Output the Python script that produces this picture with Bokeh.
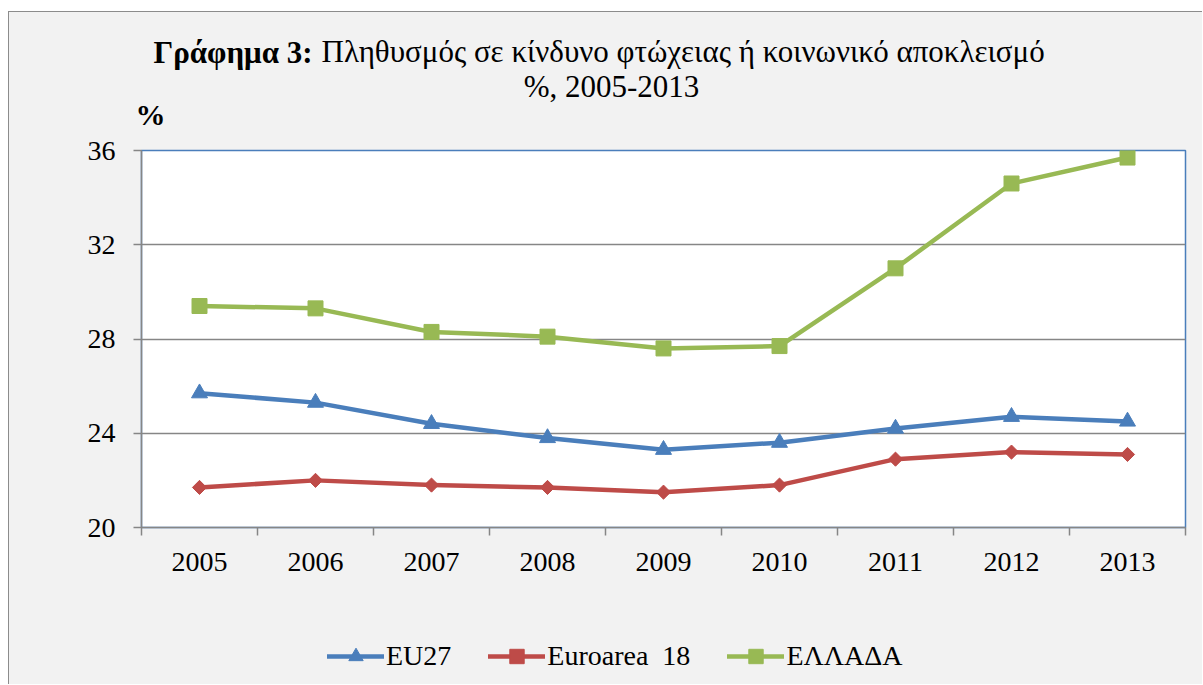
import math
from bokeh.plotting import figure
from bokeh.layouts import column
from bokeh.models import (Range1d, FactorRange, LinearAxis, CategoricalAxis, FixedTicker,
                          Label, Legend, LegendItem)
from bokeh.embed import file_html
from bokeh.resources import INLINE

years = ["2005", "2006", "2007", "2008", "2009", "2010", "2011", "2012", "2013"]
eu27 = [25.7, 25.3, 24.4, 23.8, 23.3, 23.6, 24.2, 24.7, 24.5]
euroarea18 = [21.7, 22.0, 21.8, 21.7, 21.5, 21.8, 22.9, 23.2, 23.1]
ellada = [29.4, 29.3, 28.3, 28.1, 27.6, 27.7, 31.0, 34.6, 35.7]
y_ticks = [20, 24, 28, 32, 36]
series_names = ["EU27", "Euroarea  18", "ΕΛΛΑΔΑ"]

FONT = "Liberation Serif"
BLUE = "#4A7EBB"
RED = "#BE4B48"
GREEN = "#98B954"
GRID = "#868686"
BG = "#F2F2F2"


def draw_series(fig):
    r1l = fig.line(years, eu27, line_color=BLUE, line_width=4.5, line_join="round", line_cap="round")
    r1m = fig.scatter(years, eu27, marker="triangle", size=16, fill_color=BLUE, line_color=BLUE)
    r2l = fig.line(years, euroarea18, line_color=RED, line_width=4.5, line_join="round", line_cap="round")
    r2m = fig.scatter(years, euroarea18, marker="square", angle=math.pi / 4, size=10,
                      fill_color=RED, line_color=RED)
    r3l = fig.line(years, ellada, line_color=GREEN, line_width=4.5, line_join="round", line_cap="round")
    r3m = fig.scatter(years, ellada, marker="square", size=15, fill_color=GREEN, line_color=GREEN)
    return [[r1l, r1m], [r2l, r2m], [r3l, r3m]]


# ---------------- main chart ----------------
p = figure(width=1193, height=608, x_range=FactorRange(*years), y_range=Range1d(20, 36),
           output_backend="svg", toolbar_location=None,
           x_axis_location=None, y_axis_location=None,
           min_border_left=132, min_border_right=17, min_border_top=137, min_border_bottom=93)
p.border_fill_color = BG
p.background_fill_color = "white"
p.outline_line_color = BLUE
p.outline_line_width = 1.5

yax = LinearAxis(ticker=FixedTicker(ticks=y_ticks))
yax.axis_line_color = GRID
yax.axis_line_width = 1.5
yax.major_tick_line_color = GRID
yax.major_tick_line_width = 1.5
yax.major_tick_out = 8
yax.major_tick_in = 0
yax.minor_tick_line_color = None
yax.major_label_standoff = 18
yax.major_label_text_font = FONT
yax.major_label_text_font_size = "28px"
yax.major_label_text_color = "black"
p.add_layout(yax, "left")

xticks_ax = LinearAxis(ticker=FixedTicker(ticks=list(range(len(years) + 1))))
xticks_ax.axis_line_color = GRID
xticks_ax.axis_line_width = 1.5
xticks_ax.major_tick_line_color = GRID
xticks_ax.major_tick_line_width = 1.5
xticks_ax.major_tick_out = 8
xticks_ax.major_tick_in = 0
xticks_ax.minor_tick_line_color = None
xticks_ax.major_label_text_font_size = "0px"
xticks_ax.major_label_standoff = 0
p.add_layout(xticks_ax, "below")

xlab = CategoricalAxis()
xlab.axis_line_color = None
xlab.major_tick_line_color = None
xlab.major_tick_out = 0
xlab.major_tick_in = 0
xlab.major_label_standoff = 17
xlab.major_label_text_font = FONT
xlab.major_label_text_font_size = "28px"
xlab.major_label_text_color = "black"
p.add_layout(xlab, "below")

p.xgrid.grid_line_color = None
p.ygrid.ticker = FixedTicker(ticks=y_ticks)
p.ygrid.grid_line_color = GRID
p.ygrid.grid_line_width = 1.5

draw_series(p)

H = 34  # height of each title panel
C = 11  # vertical correction
p.add_layout(Label(x=12, y=87 + C, x_units="screen", y_units="screen", text="Γράφημα 3:",
                   text_font=FONT, text_font_size="31px", text_font_style="bold",
                   text_baseline="alphabetic", text_color="black"), "above")
p.add_layout(Label(x=180, y=87 - H + C, x_units="screen", y_units="screen",
                   text="Πληθυσμός σε κίνδυνο φτώχειας ή κοινωνικό αποκλεισμό",
                   text_font=FONT, text_font_size="31px", text_baseline="alphabetic",
                   text_color="black"), "above")
p.add_layout(Label(x=470, y=51 - 2 * H + C, x_units="screen", y_units="screen",
                   text="%, 2005-2013",
                   text_font=FONT, text_font_size="31px", text_baseline="alphabetic",
                   text_align="center", text_color="black"), "above")
p.add_layout(Label(x=-6, y=round(149 - 3 * H - 126.7 + C), x_units="screen", y_units="screen",
                   text="%", text_font=FONT, text_font_size="30px", text_font_style="bold",
                   text_baseline="alphabetic", text_color="black"), "above")

# ---------------- legend strip below the chart ----------------
p2 = figure(width=1193, height=64, x_range=FactorRange(*years), y_range=Range1d(0, 1),
            output_backend="svg", toolbar_location=None,
            x_axis_location=None, y_axis_location=None,
            min_border_left=0, min_border_right=0, min_border_top=0, min_border_bottom=0)
p2.border_fill_color = BG
p2.background_fill_color = BG
p2.outline_line_color = None
p2.grid.grid_line_color = None

groups = draw_series(p2)   # series lie outside this strip's range; only their legend shows
legend = Legend(items=[LegendItem(label=name, renderers=rs) for name, rs in zip(series_names, groups)],
                orientation="horizontal", location=(186, 10))
legend.glyph_width = 57
legend.glyph_height = 36
legend.label_standoff = 2
legend.spacing = 37
legend.padding = 0
legend.margin = 0
legend.border_line_color = None
legend.background_fill_alpha = 0
legend.label_text_font = FONT
legend.label_text_font_size = "28px"
legend.label_text_color = "black"
p2.add_layout(legend, "center")

layout = column(p, p2, spacing=0,
                styles={"margin-left": "8px", "margin-top": "11px", "background-color": BG,
                        "border-top": "1px solid #8C8C8C", "border-left": "1px solid #8C8C8C"})

open("out.html", "w").write(file_html(layout, INLINE))
